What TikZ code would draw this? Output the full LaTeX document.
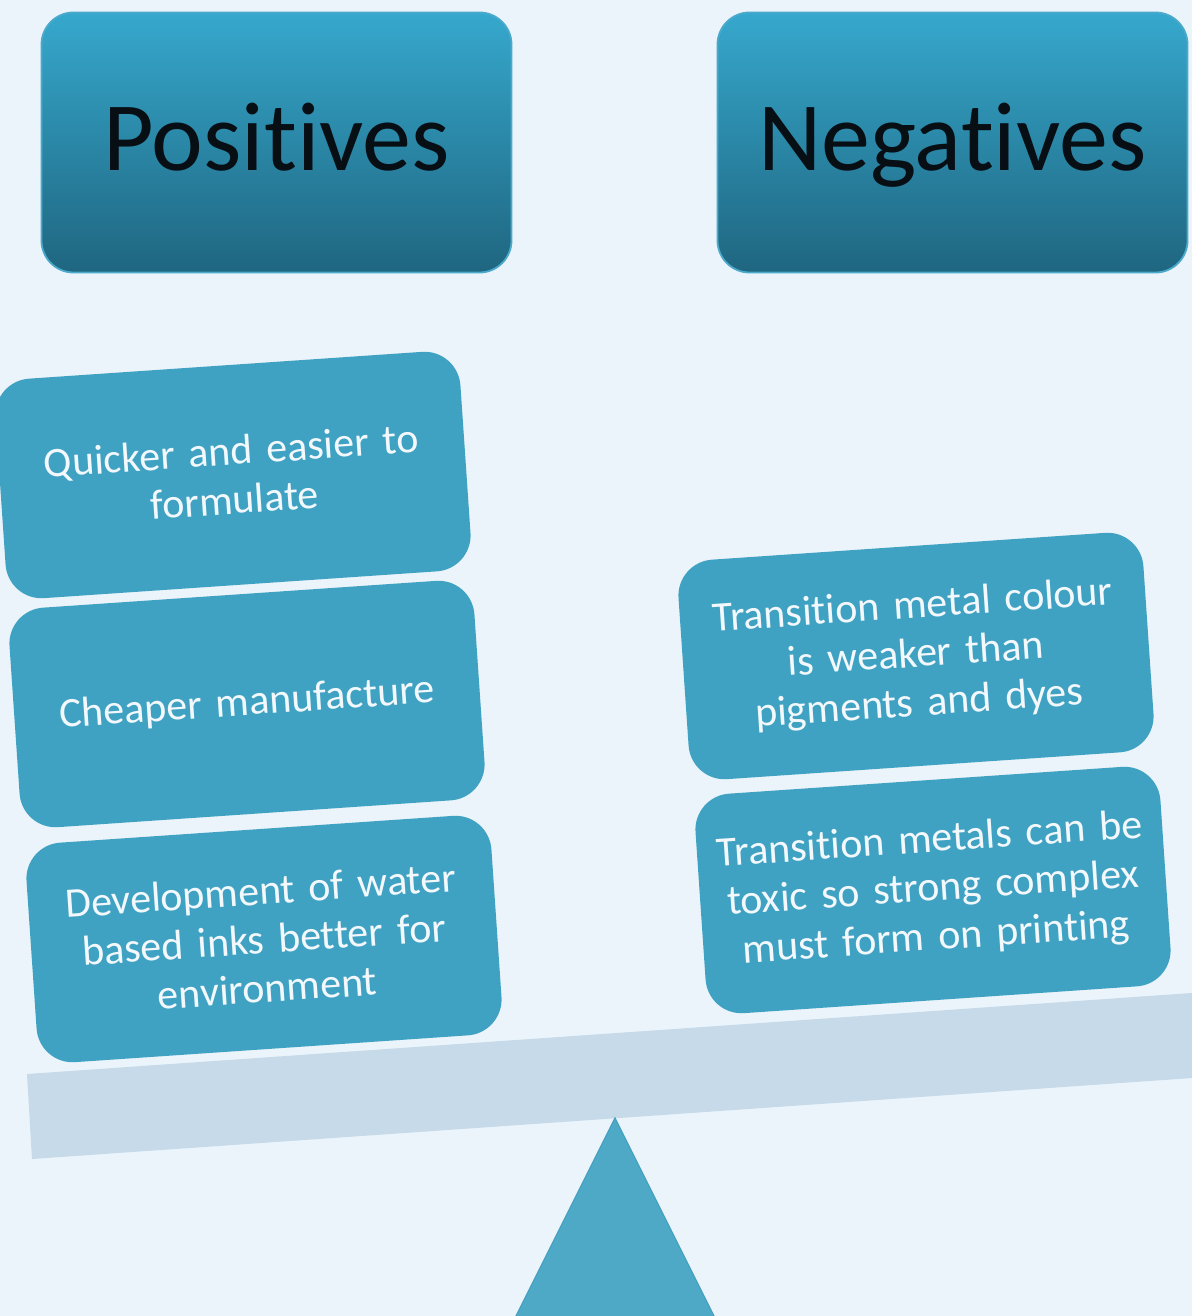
\documentclass[tikz,border=0pt]{standalone}
\usepackage{fontspec}
\setmainfont[Ligatures={NoCommon,NoRare},RawFeature={-liga;-dlig;-clig}]{Carlito}
\definecolor{bg}{HTML}{EBF4FA}
\definecolor{beam}{HTML}{C6DAEA}
\definecolor{tri}{HTML}{4EA9C7}
\definecolor{triline}{HTML}{47A1C1}
\definecolor{hdrtop}{HTML}{36A8CD}
\definecolor{hdrbot}{HTML}{1F6680}
\definecolor{hdrline}{HTML}{4BAACC}
\definecolor{hdrtext}{HTML}{070E14}
\definecolor{boxfill}{HTML}{3FA2C3}
\definecolor{itemtext}{HTML}{F2F8FB}
\begin{document}
\begin{tikzpicture}[x=0.5pt,y=-0.5pt,
  header/.style={draw=hdrline, line width=0.9pt, rounded corners=16pt,
    top color=hdrtop, bottom color=hdrbot,
    minimum width=235pt, minimum height=130pt, inner sep=0pt,
    text height=28.5pt, text depth=0pt,
    text=hdrtext, font=\fontsize{49}{58}\selectfont},
  item/.style={fill=boxfill, rounded corners=18pt,
    minimum width=233pt, minimum height=110pt, inner sep=0pt,
    text width=220pt, align=center, text=itemtext,
    font=\fontsize{21}{24.5}\selectfont, rotate=3.9}]
\fill[bg] (0,0) rectangle (1192,1316);
\useasboundingbox (0,0) rectangle (1192,1316);
% seesaw
\fill[beam] (27,1074) -- (1192,993) -- (1192,1078) -- (32,1159) -- cycle;
\filldraw[fill=tri, draw=triline, line width=0.6pt] (615,1118) -- (715,1318) -- (515,1318) -- cycle;
% headers
\node[header] (pos) at (276.5,142.5) {Positives};
\node[header] (neg) at (952.5,142.5) {Negatives};
% positives
\node[item] (p1) at (233,475) {Quicker and easier to\\formulate};
\node[item] (p2) at (247,704) {Cheaper manufacture};
\node[item] (p3) at (264,939) {Development of water\\based inks better for\\environment};
% negatives
\node[item] (n1) at (916,656) {Transition metal colour\\is weaker than\\pigments and dyes};
\node[item] (n2) at (933,890) {Transition metals can be\\toxic so strong complex\\must form on printing};
\end{tikzpicture}
\end{document}
